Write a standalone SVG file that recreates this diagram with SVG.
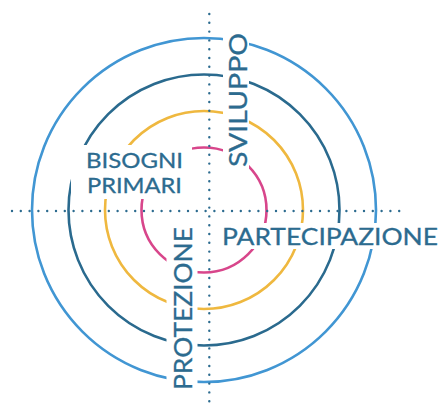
<svg xmlns="http://www.w3.org/2000/svg" width="442" height="410" viewBox="0 0 442 410">
<style>
.ring{fill:none;stroke-width:2.6}
.axis{fill:none;stroke:#2c6b8f;stroke-width:2.4;stroke-linecap:round;stroke-dasharray:0 8.8}
.lbl{font-family:Lato,"Open Sans","DejaVu Sans",sans-serif;fill:#2c6b8f;stroke:#2c6b8f;stroke-width:0.3;font-weight:400}
</style>
<defs>
<mask id="knock" maskUnits="userSpaceOnUse" x="0" y="0" width="442" height="410">
<rect x="0" y="0" width="442" height="410" fill="#fff"/>
<rect x="223" y="25" width="26" height="147" fill="#000"/>
<rect x="71" y="145" width="121" height="54" fill="#000"/>
<rect x="218" y="223" width="224" height="26" fill="#000"/>
<rect x="166.5" y="222" width="31" height="174" fill="#000"/>
</mask>
</defs>
<rect width="442" height="410" fill="#fff"/>
<g id="rings" mask="url(#knock)">
<circle class="ring" cx="204" cy="210" r="172" stroke="#4196d3"/>
<circle class="ring" cx="204" cy="210" r="135.5" stroke="#2a6a8e"/>
<circle class="ring" cx="204" cy="210" r="99" stroke="#efb83f"/>
<circle class="ring" cx="204" cy="210" r="62.5" stroke="#d8468b"/>
</g>
<g id="axes">
<line class="axis" x1="12" y1="211" x2="407" y2="211"/>
<line class="axis" x1="209.3" y1="14" x2="209.3" y2="410"/>
</g>
<g id="label-sviluppo">
<text class="lbl" font-size="25" transform="translate(246.5,167) rotate(-90)" textLength="134" lengthAdjust="spacingAndGlyphs">SVILUPPO</text>
</g>
<g id="label-bisogni-primari">
<text class="lbl" font-size="21" x="86" y="168.3" textLength="97" lengthAdjust="spacingAndGlyphs">BISOGNI</text>
<text class="lbl" font-size="21" x="87" y="193.3" textLength="95" lengthAdjust="spacingAndGlyphs">PRIMARI</text>
</g>
<g id="label-partecipazione">
<text class="lbl" font-size="23.5" x="222" y="245" textLength="216" lengthAdjust="spacingAndGlyphs">PARTECIPAZIONE</text>
</g>
<g id="label-protezione">
<text class="lbl" font-size="25" transform="translate(192,390) rotate(-90)" textLength="163" lengthAdjust="spacingAndGlyphs">PROTEZIONE</text>
</g>
</svg>
